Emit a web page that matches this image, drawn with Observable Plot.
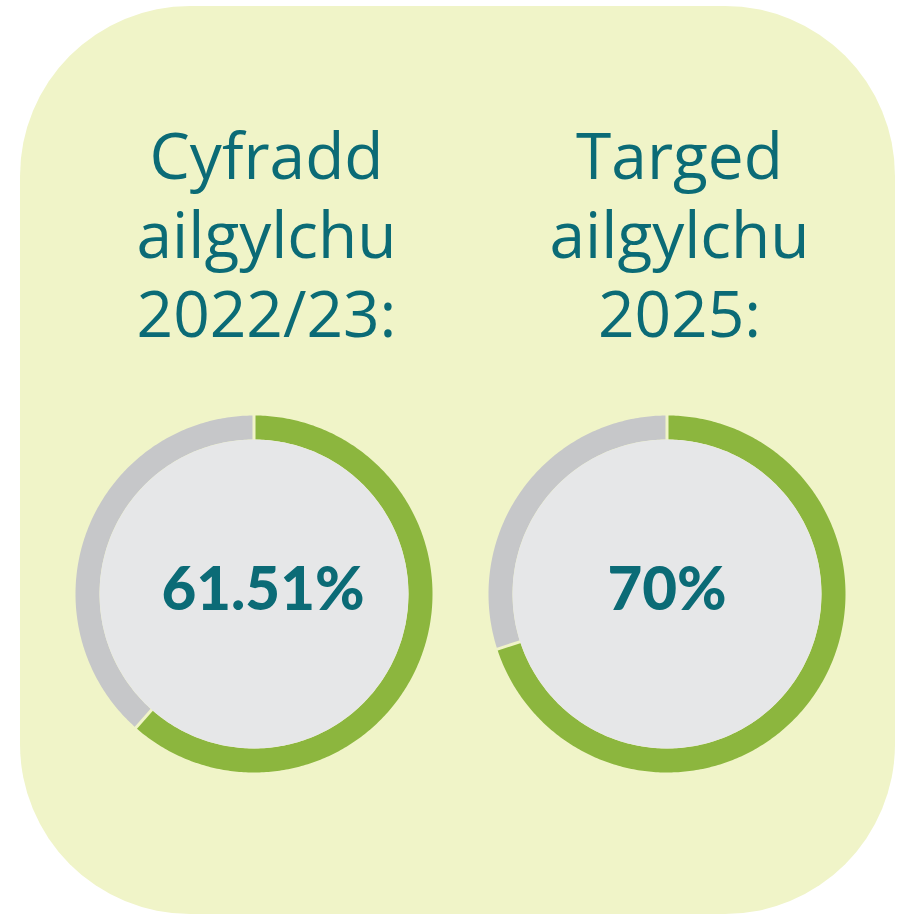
<!DOCTYPE html>
<html><head><meta charset="utf-8">
<script src="https://cdn.jsdelivr.net/npm/d3@7"></script>
<script src="https://cdn.jsdelivr.net/npm/@observablehq/plot@0.6"></script>
<style>
body{margin:0;background:#ffffff;}
#wrap{position:relative;width:905px;height:916px;}
#bg{position:absolute;left:20px;top:6px;width:875px;height:908px;border-radius:170px;background:#f0f4c8;}
#chart{position:absolute;left:0;top:0;}
</style></head><body>
<div id="wrap"><div id="bg"></div><div id="chart"></div></div>
<script>
// ---- data ----
const categories = ["Cyfradd ailgylchu 2022/23:", "Targed ailgylchu 2025:"];
const titleLines = [["Cyfradd", "ailgylchu", "2022/23:"], ["Targed", "ailgylchu", "2025:"]];
const values = [61.51, 70];
const labels = ["61.51%", "70%"];
const total = 100;

// ---- style ----
const teal = "#0b6b76", green = "#8cb63e", grey = "#c6c7c9", disc = "#e6e7e8", bgc = "#f0f4c8";
const R = 166.5, ringW = 24, discR = 154.5;

// ring geometry (from data values)
const polar = (a, r) => ({x: r * Math.sin(2 * Math.PI * a / total), y: r * Math.cos(2 * Math.PI * a / total)});
const ring = [];
categories.forEach((c, i) => {
  const segs = [["done", 0, values[i]], ["rest", values[i], total]];
  for (const [seg, a0, a1] of segs) {
    const n = Math.max(2, Math.ceil((a1 - a0) / 0.2));
    for (let k = 0; k <= n; ++k) {
      const a = a0 + (a1 - a0) * k / n;
      ring.push({category: c, seg, ...polar(a, R)});
    }
  }
});
const gaps = [];
categories.forEach((c, i) => {
  for (const a of [0, values[i]]) {
    const p0 = polar(a, R - ringW / 2 - 3), p1 = polar(a, R + ringW / 2 + 3);
    gaps.push({category: c, x1: p0.x, y1: p0.y, x2: p1.x, y2: p1.y});
  }
});
const cells = categories.map((c, i) => ({category: c, title: titleLines[i].join("\n"), label: labels[i], value: values[i]}));

const chart = Plot.plot({
  width: 905,
  height: 916,
  marginLeft: 47,
  marginRight: 32,
  marginTop: 393.5,
  marginBottom: 122.5,
  style: {background: "transparent", overflow: "visible"},
  fx: {domain: categories, padding: 0, axis: null},
  x: {domain: [-206.5, 206.5], axis: null},
  y: {domain: [-200, 200], axis: null},
  marks: [
    Plot.line(ring.filter(d => d.seg === "done"), {fx: "category", x: "x", y: "y", z: "category", stroke: green, strokeWidth: ringW, strokeLinecap: "butt", strokeLinejoin: "round"}),
    Plot.line(ring.filter(d => d.seg === "rest"), {fx: "category", x: "x", y: "y", z: "category", stroke: grey, strokeWidth: ringW, strokeLinecap: "butt", strokeLinejoin: "round"}),
    Plot.link(gaps, {fx: "category", x1: "x1", y1: "y1", x2: "x2", y2: "y2", stroke: bgc, strokeWidth: 3}),
    Plot.dot(cells, {fx: "category", x: 0, y: 0, r: discR, fill: disc}),
    Plot.text(cells, {fx: "category", text: "title", frameAnchor: "top", lineAnchor: "top", dx: 12.5, dy: -271,
      lineHeight: 79 / 64, fontSize: 64, fontFamily: "Open Sans", fontWeight: 400, fill: teal}),
    Plot.text(cells.slice(0, 1), {fx: "category", x: 0, y: 0, text: "label", dx: 9, dy: -3, lineAnchor: "middle",
      fontSize: 60, fontFamily: "Lato", fontWeight: 900, fill: teal}),
    Plot.text(cells.slice(1), {fx: "category", x: 0, y: 0, text: "label", dy: -3, lineAnchor: "middle",
      fontSize: 60, fontFamily: "Lato", fontWeight: 900, fill: teal})
  ]
});
document.getElementById("chart").appendChild(chart);
</script>
</body></html>
